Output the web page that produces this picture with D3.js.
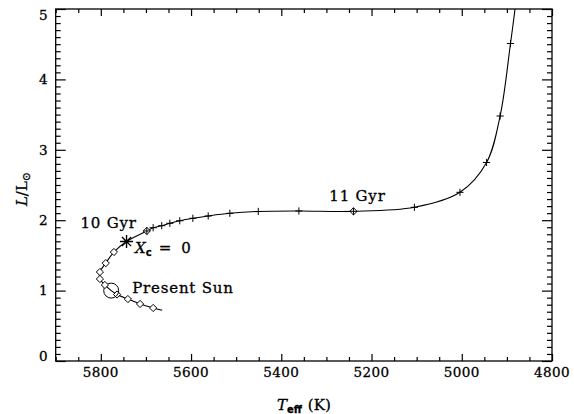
<!DOCTYPE html>
<html><head><meta charset="utf-8">
<script src="https://cdn.jsdelivr.net/npm/d3@7"></script>
<style>body{margin:0;background:#fff}svg{display:block}svg text{stroke:#000;stroke-width:0.3px}</style>
</head><body>
<svg id="chart" width="574" height="414"></svg>
<script>
// Solar-model evolutionary track: effective temperature (K) vs luminosity (L/Lsun)
// marks: "" = plain track point, "d" = 1 Gyr diamond, "sun" = present Sun,
// "xc" = central hydrogen exhaustion, "+" = 0.1 Gyr step
const trackTeff = [5664, 5684, 5713, 5740, 5764, 5777, 5791, 5802, 5802, 5789, 5771, 5743, 5698,
  5684, 5665, 5647, 5625, 5596, 5562, 5514, 5451, 5361, 5240,
  5105, 5004, 4945, 4915, 4892, 4882, 4874];
const trackLum = [0.72, 0.753, 0.81, 0.88, 0.945, 1.00, 1.08, 1.165, 1.264, 1.39, 1.548, 1.697, 1.847,
  1.893, 1.922, 1.956, 1.992, 2.027, 2.060, 2.098, 2.124, 2.131, 2.126,
  2.183, 2.396, 2.82, 3.48, 4.51, 5.0, 5.5];
const trackMark = ["", "d", "d", "d", "d", "sun", "d", "d", "d", "d", "d", "xc", "d+",
  "+", "+", "+", "+", "+", "+", "+", "+", "+", "d+",
  "+", "+", "+", "+", "+", "", ""];
const trackLabel = ["", "", "", "", "", "Present Sun", "", "", "", "", "", "", "10 Gyr",
  "", "", "", "", "", "", "", "", "", "11 Gyr",
  "", "", "", "", "", "", ""];

const xTicks = [5800, 5600, 5400, 5200, 5000, 4800];
const yTicks = [0, 1, 2, 3, 4, 5];

const svg = d3.select("#chart");
const m = {left: 55.7, right: 552, top: 9, bottom: 361};
const x = d3.scaleLinear().domain([5900, 4800]).range([m.left, m.right]);
const y = d3.scaleLinear().domain([0, 5]).range([m.bottom, m.top]);
const serif = "DejaVu Serif";

const pts = trackTeff.map((t, i) => ({t, l: trackLum[i], m: trackMark[i], lab: trackLabel[i]}));

// clip for the track
svg.append("defs").append("clipPath").attr("id", "plotclip")
  .append("rect").attr("x", m.left).attr("y", m.top)
  .attr("width", m.right - m.left).attr("height", m.bottom - m.top);

// axes: ticks point inward on all four sides
const minorX = d3.range(4800, 5901, 50).filter(v => v % 200 !== 0);
const minorY = d3.range(0, 50).map(v => v / 10).filter(v => v % 1 !== 0);

function styleAxis(g) {
  g.select(".domain").remove();
  g.selectAll(".tick line").attr("stroke", "#000").attr("stroke-width", 1.2);
  g.selectAll("text").remove();
}
svg.append("g").attr("transform", `translate(0,${m.bottom})`)
  .call(d3.axisBottom(x).tickValues(xTicks).tickSize(-7)).call(styleAxis);
svg.append("g").attr("transform", `translate(0,${m.bottom})`)
  .call(d3.axisBottom(x).tickValues(minorX).tickSize(-4)).call(styleAxis);
svg.append("g").attr("transform", `translate(0,${m.top})`)
  .call(d3.axisTop(x).tickValues(xTicks).tickSize(-7)).call(styleAxis);
svg.append("g").attr("transform", `translate(0,${m.top})`)
  .call(d3.axisTop(x).tickValues(minorX).tickSize(-4)).call(styleAxis);
svg.append("g").attr("transform", `translate(${m.left},0)`)
  .call(d3.axisLeft(y).tickValues(yTicks).tickSize(-10)).call(styleAxis);
svg.append("g").attr("transform", `translate(${m.left},0)`)
  .call(d3.axisLeft(y).tickValues(minorY).tickSize(-5)).call(styleAxis);
svg.append("g").attr("transform", `translate(${m.right},0)`)
  .call(d3.axisRight(y).tickValues(yTicks).tickSize(-10)).call(styleAxis);
svg.append("g").attr("transform", `translate(${m.right},0)`)
  .call(d3.axisRight(y).tickValues(minorY).tickSize(-5)).call(styleAxis);

svg.append("rect").attr("x", m.left).attr("y", m.top)
  .attr("width", m.right - m.left).attr("height", m.bottom - m.top)
  .attr("fill", "none").attr("stroke", "#000").attr("stroke-width", 1.3);

// tick labels
svg.append("g").selectAll("text").data(xTicks).join("text")
  .attr("x", d => x(d)).attr("y", m.bottom + 16).attr("text-anchor", "middle")
  .attr("font-family", serif).attr("font-size", 13.5).attr("letter-spacing", 0.4)
  .text(d => d);
svg.append("g").selectAll("text").data(yTicks).join("text")
  .attr("x", m.left - 8).attr("y", d => Math.min(m.bottom - 5, Math.max(m.top + 6, y(d))))
  .attr("dy", "0.36em").attr("text-anchor", "end")
  .attr("font-family", serif).attr("font-size", 13.5)
  .text(d => d);

// axis titles
const xt = svg.append("text").attr("x", (m.left + m.right) / 2).attr("y", 410)
  .attr("text-anchor", "middle").attr("font-family", serif).attr("font-size", 15);
xt.append("tspan").attr("font-style", "italic").text("T");
xt.append("tspan").attr("font-family", "DejaVu Sans").attr("font-weight", "bold")
  .attr("font-size", 10).attr("dy", 3).text("eff");
xt.append("tspan").attr("dy", -3).attr("dx", 6).text("(K)");

const yt = svg.append("text").attr("transform", `translate(27,${(m.top + m.bottom) / 2 + 4}) rotate(-90)`)
  .attr("text-anchor", "middle").attr("font-family", serif).attr("font-size", 15);
yt.append("tspan").attr("font-style", "italic").text("L");
yt.append("tspan").text("/L");
yt.append("tspan").attr("font-size", 11).attr("dy", 3).text("\u2299");

// track
const line = d3.line().x(d => x(d.t)).y(d => y(d.l)).curve(d3.curveCatmullRom.alpha(0.5));
svg.append("path").datum(pts).attr("d", line).attr("clip-path", "url(#plotclip)")
  .attr("fill", "none").attr("stroke", "#000").attr("stroke-width", 1.1);

const marks = svg.append("g").attr("fill", "none").attr("stroke", "#000").attr("stroke-width", 1);
pts.forEach(p => {
  const px = x(p.t), py = y(p.l);
  if (p.m.includes("d")) {
    const s = 3.6;
    marks.append("path").attr("d", `M${px - s},${py}L${px},${py - s}L${px + s},${py}L${px},${py + s}Z`)
      .attr("fill", "#fff");
  }
  if (p.m.includes("+")) {
    const s = 3.6;
    marks.append("path").attr("d", `M${px - s},${py}H${px + s}M${px},${py - s}V${py + s}`);
  }
  if (p.m === "sun") {
    marks.append("circle").attr("cx", px).attr("cy", py).attr("r", 7.5);
  }
  if (p.m === "xc") {
    const s = 6.5, dd = s * Math.SQRT1_2;
    marks.append("path").attr("stroke-width", 1.4)
      .attr("d", `M${px - s},${py}H${px + s}M${px},${py - s}V${py + s}` +
        `M${px - dd},${py - dd}L${px + dd},${py + dd}M${px - dd},${py + dd}L${px + dd},${py - dd}`);
    const t = svg.append("text").attr("x", px + 8.5).attr("y", py + 11)
      .attr("font-family", serif).attr("font-size", 15);
    t.append("tspan").attr("font-style", "italic").text("X");
    t.append("tspan").attr("font-family", "DejaVu Sans").attr("font-weight", "bold")
      .attr("font-size", 10).attr("dy", 3).text("c");
    t.append("tspan").attr("dy", -3).attr("dx", 7).text("=");
    t.append("tspan").attr("dx", 10).text("0");
  }
});

// annotations next to their marks
const annot = pts.filter(p => p.lab);
svg.append("g").selectAll("text").data(annot).join("text")
  .attr("font-family", serif).attr("font-size", 15).attr("letter-spacing", 0.8)
  .attr("x", d => d.lab === "10 Gyr" ? x(d.t) - 10 : d.lab === "11 Gyr" ? x(d.t) + 4 : x(d.t) + 21)
  .attr("y", d => d.lab === "10 Gyr" ? y(d.l) - 3 : d.lab === "11 Gyr" ? y(d.l) - 10 : y(d.l) + 2)
  .attr("text-anchor", d => d.lab === "10 Gyr" ? "end" : d.lab === "11 Gyr" ? "middle" : "start")
  .text(d => d.lab);
</script>
</body></html>
